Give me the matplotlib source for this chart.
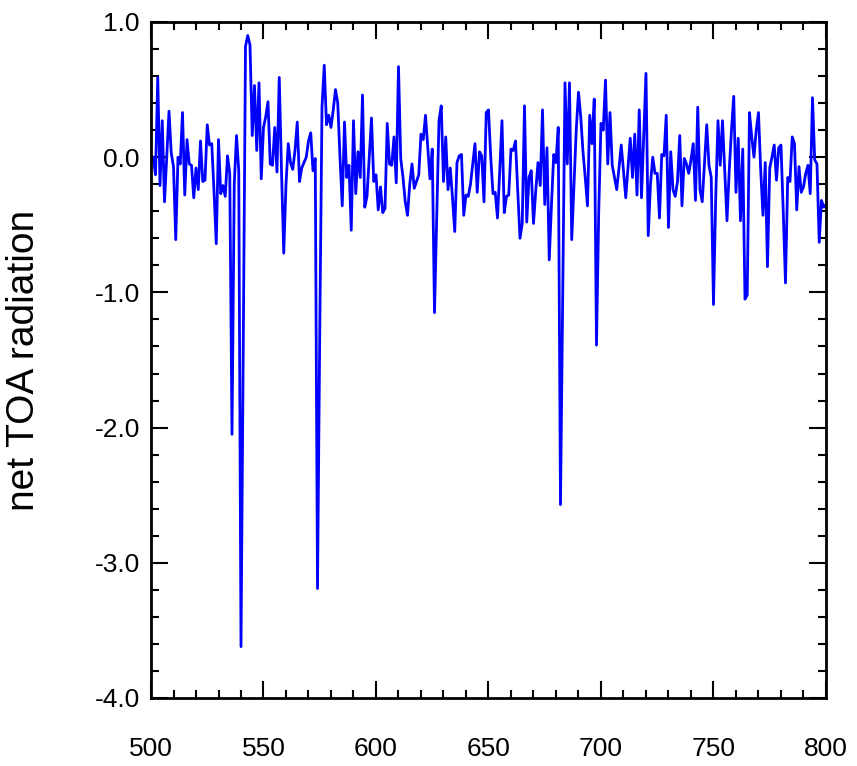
import matplotlib
matplotlib.use("Agg")
import matplotlib.pyplot as plt
import numpy as np
from matplotlib.ticker import MultipleLocator

# net TOA radiation, one value per year starting at 501
start_year = 501
toa = [
    0.0, -0.13, 0.59, -0.21, 0.27, -0.33, 0.0, 0.34, 0.03, -0.07,      # 501-510
    -0.61, 0.0, -0.05, 0.33, -0.28, 0.13, -0.05, -0.06, -0.30, -0.08,  # 511-520
    -0.24, 0.12, -0.18, -0.17, 0.24, 0.09, 0.10, -0.25, -0.64, 0.13,   # 521-530
    -0.27, -0.21, -0.29, 0.01, -0.12, -2.05, -0.20, 0.16, -0.10, -3.62,  # 531-540
    -1.40, 0.82, 0.90, 0.83, 0.16, 0.53, 0.05, 0.55, -0.16, 0.22,      # 541-550
    0.30, 0.41, -0.05, -0.06, 0.22, -0.11, 0.59, -0.10, -0.71, -0.20,  # 551-560
    0.10, -0.04, -0.09, 0.05, 0.26, -0.18, -0.08, -0.04, 0.0, 0.12,    # 561-570
    0.18, -0.10, -0.01, -3.19, -1.30, 0.37, 0.68, 0.24, 0.31, 0.22,    # 571-580
    0.35, 0.50, 0.40, 0.0, -0.36, 0.26, -0.15, -0.06, -0.54, 0.27,     # 581-590
    -0.27, 0.04, -0.15, 0.46, -0.37, -0.29, 0.0, 0.29, -0.18, -0.13,   # 591-600
    -0.39, -0.22, -0.41, -0.38, 0.25, -0.05, -0.06, 0.15, -0.19, 0.67,  # 601-610
    -0.01, -0.15, -0.33, -0.43, -0.20, -0.05, -0.23, -0.18, -0.13, 0.17,  # 611-620
    0.13, 0.31, 0.07, -0.16, 0.06, -1.15, -0.45, 0.27, 0.38, -0.18,    # 621-630
    0.15, -0.24, -0.08, -0.30, -0.55, -0.04, 0.01, 0.02, -0.43, -0.28,  # 631-640
    -0.29, -0.20, -0.05, 0.10, -0.26, 0.04, 0.01, -0.33, 0.33, 0.35,   # 641-650
    0.0, -0.27, -0.26, -0.45, -0.10, 0.27, -0.41, -0.29, -0.28, 0.06,  # 651-660
    0.05, 0.12, -0.25, -0.60, -0.49, 0.38, -0.48, -0.15, -0.10, -0.49,  # 661-670
    -0.25, -0.04, -0.21, 0.35, -0.35, 0.07, -0.76, -0.35, 0.02, -0.04,  # 671-680
    0.22, -2.57, -1.00, 0.55, -0.05, 0.55, -0.61, -0.20, 0.20, 0.48,   # 681-690
    0.30, 0.04, -0.15, -0.36, 0.31, 0.10, 0.43, -1.39, -0.40, 0.25,    # 691-700
    0.20, 0.57, -0.05, 0.33, -0.06, -0.15, -0.24, -0.08, 0.09, -0.10,  # 701-710
    -0.30, -0.08, 0.14, -0.15, 0.17, -0.28, 0.35, -0.30, 0.15, 0.62,   # 711-720
    -0.58, -0.20, 0.0, -0.12, -0.12, -0.45, 0.02, 0.01, 0.31, -0.52,   # 721-730
    0.04, -0.24, -0.29, -0.18, 0.16, -0.36, -0.01, -0.05, -0.12, -0.02,  # 731-740
    0.10, -0.32, 0.37, -0.24, -0.33, -0.05, 0.24, -0.06, -0.15, -1.09,  # 741-750
    -0.30, 0.27, -0.06, 0.27, -0.10, -0.47, -0.10, 0.20, 0.45, -0.26,  # 751-760
    0.14, -0.47, 0.06, -1.05, -1.02, 0.33, 0.15, 0.0, 0.20, 0.33,      # 761-770
    -0.10, -0.43, -0.04, -0.81, -0.08, 0.0, 0.09, -0.17, 0.07, 0.09,   # 771-780
    -0.40, -0.93, -0.15, -0.18, 0.15, 0.10, -0.39, -0.07, -0.26, -0.22,  # 781-790
    -0.12, -0.06, -0.27, 0.44, -0.02, -0.05, -0.63, -0.32, -0.37, -0.35,  # 791-800
]
years = np.arange(start_year, start_year + len(toa))

x_ticks = [500, 550, 600, 650, 700, 750, 800]
y_ticks = [-4.0, -3.0, -2.0, -1.0, 0.0, 1.0]

plt.rcParams["font.family"] = ["Liberation Sans", "DejaVu Sans"]

fig = plt.figure(figsize=(8.57, 7.66), dpi=100)
ax = fig.add_axes([0.1762, 0.0888, 0.7876, 0.8825])

ax.plot(years, toa, color="#0000ff", linewidth=2.0)

ax.set_xlim(500, 800)
ax.set_ylim(-4.0, 1.0)
ax.set_xticks(x_ticks)
ax.set_xticklabels([str(t) for t in x_ticks])
ax.set_yticks(y_ticks)
ax.set_yticklabels([f"{t:.1f}" for t in y_ticks])
ax.xaxis.set_minor_locator(MultipleLocator(10))
ax.yaxis.set_minor_locator(MultipleLocator(0.2))

ax.tick_params(which="both", direction="in", top=True, right=True,
               width=1.5, labelsize=19)
ax.tick_params(axis="y", which="major", pad=8)
ax.tick_params(axis="x", which="major", pad=28)
ax.tick_params(which="major", length=12)
ax.tick_params(which="minor", length=6)
for s in ax.spines.values():
    s.set_linewidth(2.0)

ax.set_ylabel("net TOA radiation", fontsize=28)
ax.yaxis.set_label_coords(-0.162, 0.5)

fig.savefig("out.png", dpi=100)
